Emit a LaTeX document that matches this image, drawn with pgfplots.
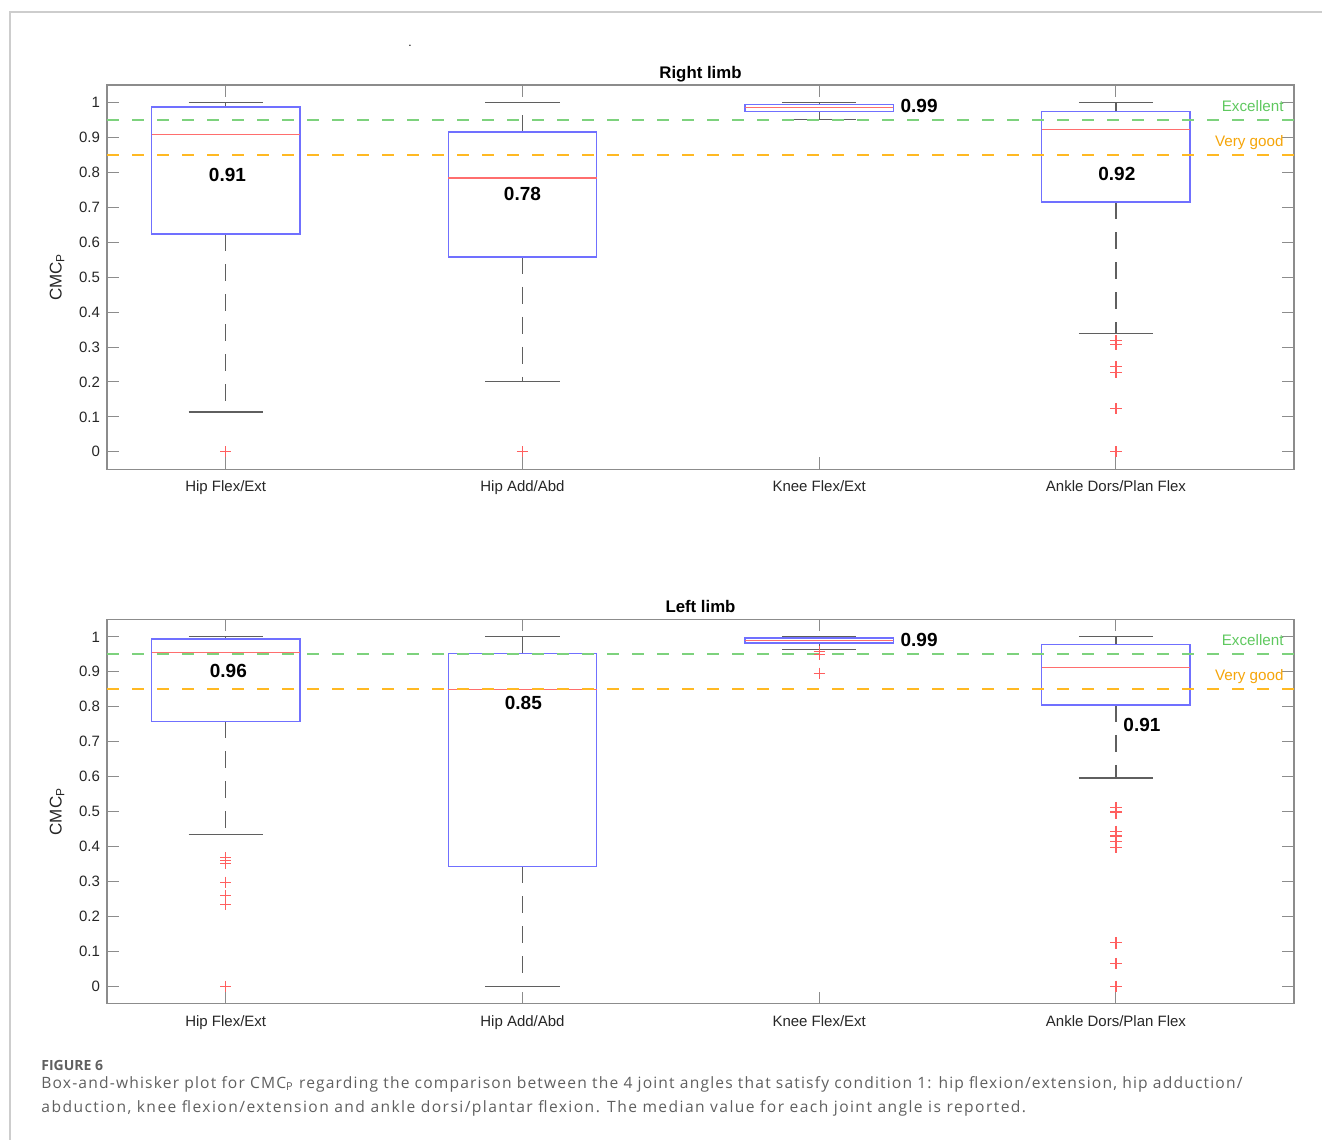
\documentclass[border=0pt]{standalone}
\usepackage{pgfplots}
\pgfplotsset{compat=1.18}
\usepgfplotslibrary{statistics}
\usepackage{fontspec}
\setmainfont{Liberation Sans}
\newfontfamily\capfont[LetterSpace=9.2]{Open Sans}
\newfontfamily\capfontA[LetterSpace=7.5]{Open Sans}
\newfontfamily\capfontb{Open Sans}
\definecolor{boxblue}{RGB}{112,112,255}
\definecolor{medred}{RGB}{255,110,110}
\definecolor{outred}{RGB}{255,95,95}
\definecolor{exgreen}{RGB}{125,210,125}
\definecolor{extext}{RGB}{95,200,95}
\definecolor{vgorange}{RGB}{255,185,35}
\definecolor{vgtext}{RGB}{245,165,10}
\definecolor{axgray}{RGB}{140,140,140}
\definecolor{wgray}{RGB}{95,95,95}
\definecolor{capgray}{RGB}{95,95,95}
\definecolor{framegray}{RGB}{205,205,205}

\tikzset{
  medlab/.style={font=\bfseries\fontsize{9.5}{11}\selectfont, inner sep=0pt},
  thrlab/.style={anchor=east, inner sep=0pt, font=\fontsize{7.6}{9}\selectfont},
}
\pgfplotsset{
  cmcaxis/.style={
    scale only axis, width=593.5pt, height=192.15pt,
    anchor=south west,
    xmin=0.6, xmax=4.6, ymin=-0.05, ymax=1.05,
    xtick={1,2,3,4},
    xticklabels={Hip Flex/Ext, Hip Add/Abd, Knee Flex/Ext, Ankle Dors/Plan Flex},
    ytick={0,0.1,0.2,0.3,0.4,0.5,0.6,0.7,0.8,0.9,1},
    yticklabels={0,0.1,0.2,0.3,0.4,0.5,0.6,0.7,0.8,0.9,1},
    tick align=inside, major tick length=6pt,
    tick style={draw=axgray, line width=0.5pt},
    axis line style={draw=axgray, line width=0.6pt},
    ticklabel style={font=\fontsize{7.5}{9}\selectfont, text=black!85},
    xticklabel style={yshift=-2.2pt},
    ylabel={CMC\textsubscript{P}},
    ylabel style={font=\fontsize{8.5}{10}\selectfont, text=black!85, at={(axis description cs:-0.042,0.5)}, anchor=center},
    every axis title shift=0pt,
    title style={font=\bfseries\fontsize{8.4}{10}\selectfont, at={(axis description cs:0.5,1)}, anchor=base, yshift=3.4pt, inner sep=0pt},
    boxplot/draw direction=y,
    boxplot/box extend=0.5,
    boxplot/whisker extend=0.25,
    boxplot/every box/.style={draw=boxblue, line width=0.7pt},
    boxplot/every median/.style={draw=medred, line width=0.7pt},
    boxplot/draw/lower whisker/.code={%
      \draw[wgray, line width=0.6pt, dash pattern=on 8.5pt off 6.5pt]
        (boxplot box cs:\pgfplotsboxplotvalue{lower quartile},0.5) --
        (boxplot box cs:\pgfplotsboxplotvalue{lower whisker},0.5);
      \draw[wgray, line width=0.6pt]
        (boxplot whisker cs:\pgfplotsboxplotvalue{lower whisker},0) --
        (boxplot whisker cs:\pgfplotsboxplotvalue{lower whisker},1);
    },
    boxplot/draw/upper whisker/.code={%
      \draw[wgray, line width=0.6pt, dash pattern=on 8.5pt off 6.5pt]
        (boxplot box cs:\pgfplotsboxplotvalue{upper quartile},0.5) --
        (boxplot box cs:\pgfplotsboxplotvalue{upper whisker},0.5);
      \draw[wgray, line width=0.6pt]
        (boxplot whisker cs:\pgfplotsboxplotvalue{upper whisker},0) --
        (boxplot whisker cs:\pgfplotsboxplotvalue{upper whisker},1);
    },
  },
  bx/.style={black, mark=+, mark options={draw=outred, line width=0.55pt}, mark size=2.8pt},
}

\begin{document}
\begin{tikzpicture}
\path[use as bounding box] (0,0) rectangle (661pt,570pt);
\draw[framegray, line width=0.6pt] (5pt,0pt) -- (5pt,564pt) -- (661pt,564pt);
\node[inner sep=0pt, font=\fontsize{6}{7}\selectfont] at (205pt,547pt) {.};

% ---------------- Right limb ----------------
\begin{axis}[cmcaxis, at={(53.5pt,335.35pt)}, title={Right limb}]
\addplot[bx, boxplot prepared={draw position=1, lower whisker=0.114, lower quartile=0.623, median=0.909, upper quartile=0.987, upper whisker=1.0}]
  table[row sep=\\, y index=0] {v\\ 0.0\\};
\addplot[bx, boxplot prepared={draw position=2, lower whisker=0.201, lower quartile=0.558, median=0.784, upper quartile=0.916, upper whisker=1.0}]
  table[row sep=\\, y index=0] {v\\ 0.0\\};
\addplot[bx, boxplot prepared={draw position=3, lower whisker=0.952, lower quartile=0.974, median=0.985, upper quartile=0.995, upper whisker=1.0}]
  coordinates {};
\addplot[bx, boxplot prepared={draw position=4, lower whisker=0.338, lower quartile=0.715, median=0.923, upper quartile=0.974, upper whisker=1.0}]
  table[row sep=\\, y index=0] {v\\ 0.318\\ 0.308\\ 0.244\\ 0.228\\ 0.123\\ 0.0\\};
\addplot[draw=exgreen, line width=1pt, dash pattern=on 6pt off 6.5pt] coordinates {(0.6,0.95) (4.6,0.95)};
\addplot[draw=vgorange, line width=1pt, dash pattern=on 6pt off 6.5pt] coordinates {(0.6,0.85) (4.6,0.85)};
\node[medlab] at (axis cs:1.006,0.7935) {0.91};
\node[medlab] at (axis cs:2.0,0.738) {0.78};
\node[medlab, anchor=west] at (axis cs:3.273,0.989) {0.99};
\node[medlab] at (axis cs:4.003,0.794) {0.92};
\node[thrlab, text=extext] at (axis cs:4.566,0.99) {Excellent};
\node[thrlab, text=vgtext] at (axis cs:4.566,0.886) {Very good};
\end{axis}

% ---------------- Left limb ----------------
\begin{axis}[cmcaxis, at={(53.5pt,68.15pt)}, title={Left limb}]
\addplot[bx, boxplot prepared={draw position=1, lower whisker=0.434, lower quartile=0.758, median=0.956, upper quartile=0.994, upper whisker=1.0}]
  table[row sep=\\, y index=0] {v\\ 0.368\\ 0.360\\ 0.352\\ 0.298\\ 0.260\\ 0.233\\ 0.0\\};
\addplot[bx, boxplot prepared={draw position=2, lower whisker=0.0, lower quartile=0.343, median=0.850, upper quartile=0.953, upper whisker=1.0}]
  coordinates {};
\addplot[bx, boxplot prepared={draw position=3, lower whisker=0.963, lower quartile=0.982, median=0.990, upper quartile=0.997, upper whisker=1.0}]
  table[row sep=\\, y index=0] {v\\ 0.958\\ 0.949\\ 0.896\\};
\addplot[bx, boxplot prepared={draw position=4, lower whisker=0.596, lower quartile=0.805, median=0.913, upper quartile=0.978, upper whisker=1.0}]
  table[row sep=\\, y index=0] {v\\ 0.512\\ 0.501\\ 0.496\\ 0.444\\ 0.430\\ 0.415\\ 0.398\\ 0.124\\ 0.065\\ 0.0\\};
\addplot[draw=exgreen, line width=1pt, dash pattern=on 6pt off 6.5pt] coordinates {(0.6,0.95) (4.6,0.95)};
\addplot[draw=vgorange, line width=1pt, dash pattern=on 6pt off 6.5pt] coordinates {(0.6,0.85) (4.6,0.85)};
\node[medlab] at (axis cs:1.009,0.901) {0.96};
\node[medlab] at (axis cs:2.003,0.81) {0.85};
\node[medlab, anchor=west] at (axis cs:3.273,0.9906) {0.99};
\node[medlab, anchor=west] at (axis cs:4.024,0.749) {0.91};
\node[thrlab, text=extext] at (axis cs:4.566,0.99) {Excellent};
\node[thrlab, text=vgtext] at (axis cs:4.566,0.886) {Very good};
\end{axis}

% ---------------- Caption ----------------
\node[anchor=base west, inner sep=0pt, text=capgray, font=\capfontb\bfseries\fontsize{7}{8}\selectfont] at (20.5pt,34.5pt) {FIGURE 6};
\node[anchor=base west, inner sep=0pt, text=capgray, font=\capfontA\fontsize{7.8}{9}\selectfont] at (20.5pt,25.75pt)
  {Box-and-whisker plot for CMC\textsubscript{P} regarding the comparison between the 4 joint angles that satisfy condition 1: hip flexion/extension, hip adduction/};
\node[anchor=base west, inner sep=0pt, text=capgray, font=\capfont\fontsize{7.8}{9}\selectfont] at (20.5pt,13.75pt)
  {abduction, knee flexion/extension and ankle dorsi/plantar flexion. The median value for each joint angle is reported.};
\end{tikzpicture}
\end{document}
